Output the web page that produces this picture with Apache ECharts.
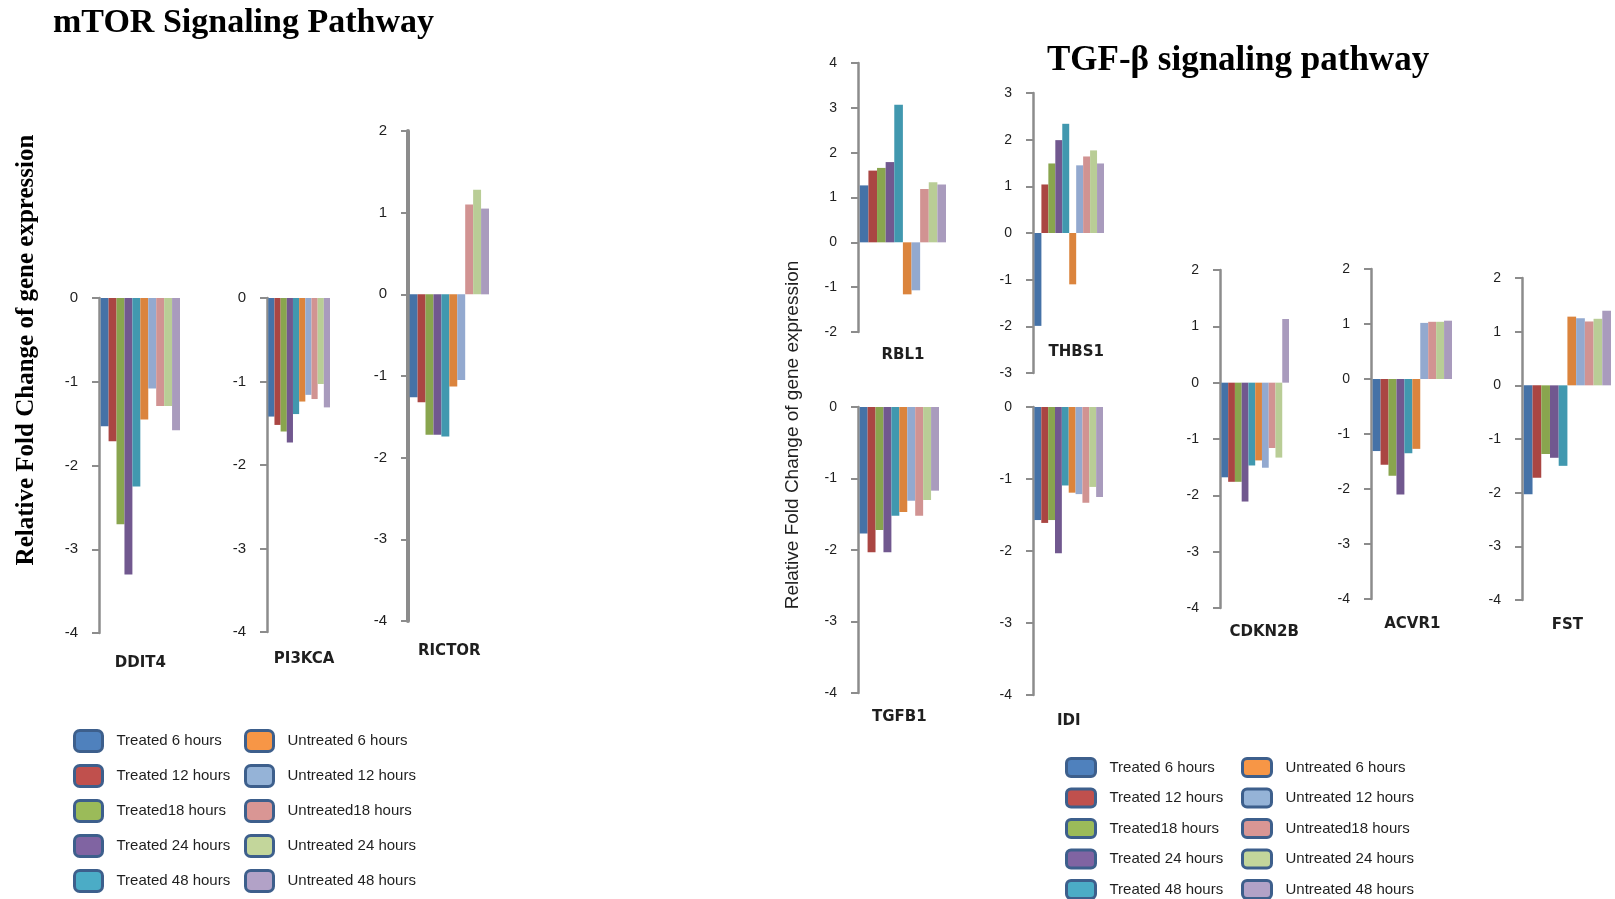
<!DOCTYPE html>
<html>
<head>
<meta charset="utf-8">
<script src="https://cdn.jsdelivr.net/npm/echarts@6/dist/echarts.min.js"></script>
<style>
  html, body { margin: 0; padding: 0; background: #ffffff; }
  #chart { width: 1615px; height: 899px; }
</style>
</head>
<body>
<div id="chart"></div>
<script>
// Experimental groups (one bar per group in every gene panel)
const seriesNames = [
  'Treated 6 hours', 'Treated 12 hours', 'Treated18 hours', 'Treated 24 hours', 'Treated 48 hours',
  'Untreated 6 hours', 'Untreated 12 hours', 'Untreated18 hours', 'Untreated 24 hours', 'Untreated 48 hours'
];

// Genes per pathway
const mtorGenes = ['DDIT4', 'PI3KCA', 'RICTOR'];
const tgfGenes = ['RBL1', 'THBS1', 'TGFB1', 'IDI', 'CDKN2B', 'ACVR1', 'FST'];

// Relative fold change, in seriesNames order
const DDIT4  = [-1.53, -1.71, -2.70, -3.30, -2.25, -1.45, -1.08, -1.29, -1.29, -1.58];
const PI3KCA = [-1.42, -1.52, -1.60, -1.73, -1.39, -1.24, -1.16, -1.21, -1.03, -1.31];
const RICTOR = [-1.26, -1.32, -1.72, -1.72, -1.74, -1.13, -1.05, 1.10, 1.28, 1.05];
const RBL1   = [1.27, 1.60, 1.66, 1.79, 3.07, -1.16, -1.07, 1.19, 1.34, 1.29];
const THBS1  = [-1.99, 1.04, 1.49, 1.99, 2.34, -1.10, 1.45, 1.64, 1.77, 1.49];
const TGFB1  = [-1.77, -2.03, -1.72, -2.03, -1.52, -1.47, -1.31, -1.52, -1.30, -1.17];
const IDI    = [-1.57, -1.61, -1.57, -2.03, -1.09, -1.19, -1.21, -1.33, -1.11, -1.25];
const CDKN2B = [-1.68, -1.76, -1.76, -2.11, -1.47, -1.38, -1.51, -1.16, -1.33, 1.13];
const ACVR1  = [-1.31, -1.56, -1.76, -2.10, -1.35, -1.27, 1.02, 1.04, 1.04, 1.06];
const FST    = [-2.03, -1.72, -1.28, -1.35, -1.50, 1.28, 1.25, 1.19, 1.24, 1.39];

const geneValues = { DDIT4, PI3KCA, RICTOR, RBL1, THBS1, TGFB1, IDI, CDKN2B, ACVR1, FST };

// Value-axis ranges (tick labels run from min to max in steps of 1)
const axisMin = { DDIT4: -4, PI3KCA: -4, RICTOR: -4, RBL1: -2, THBS1: -3, TGFB1: -4, IDI: -4, CDKN2B: -4, ACVR1: -4, FST: -4 };
const axisMax = { DDIT4: 0, PI3KCA: 0, RICTOR: 2, RBL1: 4, THBS1: 3, TGFB1: 0, IDI: 0, CDKN2B: 2, ACVR1: 2, FST: 2 };

// ---- styling ----
const barColors = ['#4572A7', '#AA4643', '#89A54E', '#71588F', '#4198AF',
                   '#DB843D', '#93A9CF', '#D19392', '#B9CD96', '#A99BBD'];
const swatchColors = ['#4F81BD', '#C0504D', '#9BBB59', '#8064A2', '#4BACC6',
                      '#F79646', '#95B3D7', '#D99694', '#C3D69B', '#B2A2C7'];

// Panel placement: axis x, top / bottom pixel of the value axis, right end of the bars,
// category label offset and axis line width
const panelLayout = {
  DDIT4:  { x: 99,   top: 298, bottom: 633, end: 180,  margin: 23,  dx: 0, lw: 2.5, fs: 15 },
  PI3KCA: { x: 267,  top: 298, bottom: 632, end: 330,  margin: 20,  dx: 5, lw: 2.5, fs: 15 },
  RICTOR: { x: 408,  top: 131, bottom: 621, end: 489,  margin: 23,  dx: 0, lw: 4,   fs: 15 },
  RBL1:   { x: 858,  top: 63,  bottom: 332, end: 946,  margin: 16,  dx: 0, lw: 2.5, fs: 14 },
  THBS1:  { x: 1033, top: 93,  bottom: 373, end: 1104, margin: -28, dx: 7, lw: 2.5, fs: 14 },
  TGFB1:  { x: 858,  top: 407, bottom: 693, end: 939,  margin: 17,  dx: 0, lw: 2.5, fs: 14 },
  IDI:    { x: 1033, top: 407, bottom: 695, end: 1103, margin: 19,  dx: 0, lw: 2.5, fs: 14 },
  CDKN2B: { x: 1220, top: 270, bottom: 608, end: 1289, margin: 17,  dx: 9, lw: 2.5, fs: 14 },
  ACVR1:  { x: 1371, top: 269, bottom: 599, end: 1452, margin: 18,  dx: 0, lw: 2.5, fs: 14 },
  FST:    { x: 1522, top: 278, bottom: 600, end: 1611, margin: 18,  dx: 0, lw: 2.5, fs: 14 }
};

const CAT_GAP = 0.04;
const axisGray = '#8C8C8C';
const textDark = '#1F1F1F';

const allGenes = mtorGenes.concat(tgfGenes);
const grids = [], xAxes = [], yAxes = [], series = [];

allGenes.forEach(function (gene, p) {
  const L = panelLayout[gene];
  const width = (L.end - L.x) / (1 - CAT_GAP / 2);
  grids.push({
    left: L.x, top: L.top, width: width, height: L.bottom - L.top,
    containLabel: false, outerBoundsMode: 'none'
  });
  xAxes.push({
    type: 'category', gridIndex: p, data: [gene], position: 'bottom',
    axisLine: { show: false, onZero: false },
    axisTick: { show: false },
    splitLine: { show: false },
    axisLabel: {
      margin: L.margin, fontFamily: 'DejaVu Sans', fontWeight: 'bold', fontSize: 15,
      color: textDark, padding: [0, 0, 0, L.dx * 2]
    }
  });
  yAxes.push({
    type: 'value', gridIndex: p, min: axisMin[gene], max: axisMax[gene], interval: 1,
    splitLine: { show: false },
    axisLine: { show: true, lineStyle: { color: axisGray, width: L.lw } },
    axisTick: { show: true, length: 7, lineStyle: { color: axisGray, width: 2 } },
    axisLabel: {
      margin: 21, fontFamily: 'Liberation Sans', fontSize: L.fs, color: textDark
    }
  });
  seriesNames.forEach(function (name, i) {
    series.push({
      type: 'bar', name: name, xAxisIndex: p, yAxisIndex: p,
      data: [geneValues[gene][i]],
      barGap: '0%', barCategoryGap: (CAT_GAP * 100) + '%',
      itemStyle: { color: barColors[i] },
      emphasis: { disabled: true }
    });
  });
});

function legendBlock(names, offset, left, top, w, h, gap) {
  return {
    orient: 'vertical', left: left, top: top, height: 400, padding: 0,
    itemWidth: w, itemHeight: h, itemGap: gap, icon: 'roundRect',
    selectedMode: false,
    itemStyle: { borderColor: '#3D5F8C', borderWidth: 3 },
    textStyle: { fontFamily: 'Liberation Sans', fontSize: 15, color: textDark, padding: [0, 0, 0, 9] },
    data: names.map(function (n, k) {
      return { name: n, itemStyle: { color: swatchColors[offset + k], borderColor: '#3D5F8C', borderWidth: 3 } };
    })
  };
}

const treatedNames = seriesNames.slice(0, 5);
const untreatedNames = seriesNames.slice(5);

const option = {
  animation: false,
  backgroundColor: '#ffffff',
  title: [
    {
      text: 'mTOR Signaling Pathway', left: 53, top: 6, padding: 0,
      textStyle: { fontFamily: 'Liberation Serif', fontWeight: 'bold', fontSize: 34, color: '#000' }
    },
    {
      text: 'TGF-β signaling pathway', left: 1047, top: 43, padding: 0,
      textStyle: { fontFamily: 'Liberation Serif', fontWeight: 'bold', fontSize: 35, color: '#000' }
    }
  ],
  legend: [
    legendBlock(treatedNames, 0, 73, 729, 28, 21, 11),
    legendBlock(untreatedNames, 5, 244, 729, 28, 21, 11),
    legendBlock(treatedNames, 0, 1065, 757, 29, 18, 9.5),
    legendBlock(untreatedNames, 5, 1241, 757, 29, 18, 9.5)
  ],
  graphic: [
    {
      type: 'text', x: 27, y: 350, rotation: Math.PI / 2,
      style: {
        text: 'Relative Fold Change of gene expression',
        font: 'bold 25px "Liberation Serif"', fill: '#000',
        textAlign: 'center', textVerticalAlign: 'middle'
      }
    },
    {
      type: 'text', x: 793, y: 435, rotation: Math.PI / 2,
      style: {
        text: 'Relative Fold Change of gene expression',
        font: '19px "Liberation Sans"', fill: textDark,
        textAlign: 'center', textVerticalAlign: 'middle'
      }
    }
  ],
  grid: grids,
  xAxis: xAxes,
  yAxis: yAxes,
  series: series
};

const chart = echarts.init(document.getElementById('chart'), null, { renderer: 'canvas' });
chart.setOption(option);
</script>
</body>
</html>
